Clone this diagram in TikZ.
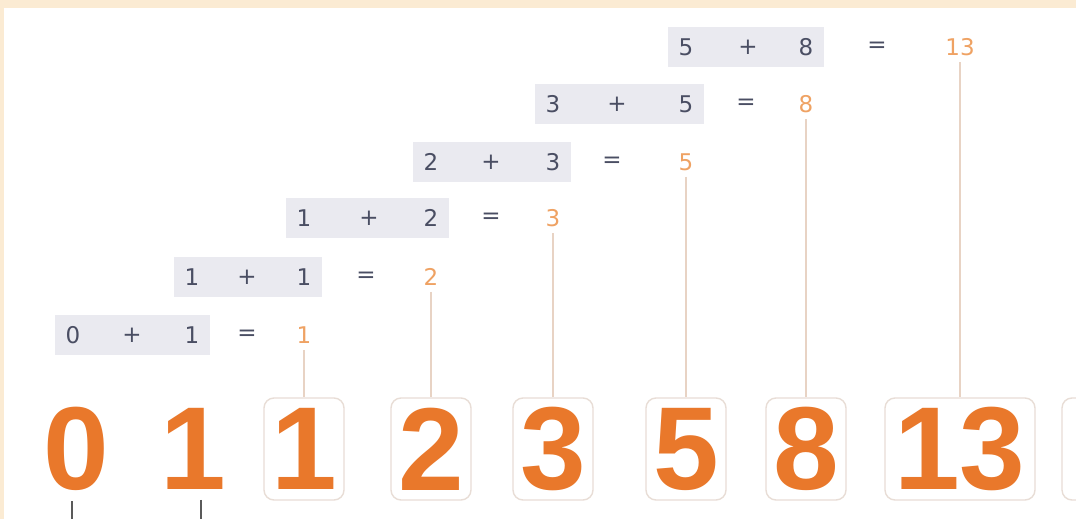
\documentclass[tikz,border=0pt]{standalone}
\usepackage{fontspec}
\setmainfont{DejaVu Sans}
\newfontfamily\digitfont{Liberation Sans}
\usepackage{xcolor}
\usepackage{tikz}
\usetikzlibrary{positioning, fit, backgrounds}
\definecolor{fibcream}{HTML}{FBEBD3}
\definecolor{fiborange}{HTML}{E9782B}
\definecolor{fibpeach}{HTML}{EFA263}
\definecolor{fibslate}{HTML}{4A4E63}
\definecolor{fibgray}{HTML}{EAEAF0}
\definecolor{fibedge}{HTML}{E8DDD6}
\definecolor{fibline}{HTML}{E8D3C4}
\definecolor{fibtick}{HTML}{5A5A5A}

\begin{document}
\begin{tikzpicture}[
    x=0.5pt, y=-0.5pt,
    bignum/.style={font=\digitfont\fontsize{59}{59}\selectfont\bfseries, text=fiborange, inner sep=0pt},
    numbox/.style={bignum, draw=fibedge, fill=white, line width=0.7pt, rounded corners=5pt, minimum width=40pt, minimum height=51pt},
    term/.style={font=\fontsize{11.5}{12}\selectfont, text=fibslate, inner sep=0pt},
    result/.style={term, text=fibpeach},
    pair/.style={fill=fibgray, inner xsep=5.3pt, inner ysep=5.5pt},
    link/.style={draw=fibline, line width=1pt},
    tick/.style={draw=fibtick, line width=0.8pt},
]
\useasboundingbox (0,0) rectangle (1076,519);

% Frame
\begin{scope}[on background layer]
\fill[fibcream] (0,0) rectangle (1076,519);
\fill[white] (4,8) rectangle (1090,530);
\end{scope}

% Sums, bottom row first
\node[term] (a0) at (73,335) {0};
\node[term] (p0) at (132,335) {+};
\node[term] (b0) at (192,335) {1};
\node[term] (e0) at (247,335) {=};
\node[result] (r0) at (304,335) {1};

\node[term] (a1) at (192,277) {1};
\node[term] (p1) at (247,277) {+};
\node[term] (b1) at (304,277) {1};
\node[term] (e1) at (366,277) {=};
\node[result] (r1) at (431,277) {2};

\node[term] (a2) at (304,218) {1};
\node[term] (p2) at (369,218) {+};
\node[term] (b2) at (431,218) {2};
\node[term] (e2) at (491,218) {=};
\node[result] (r2) at (553,218) {3};

\node[term] (a3) at (431,162) {2};
\node[term] (p3) at (491,162) {+};
\node[term] (b3) at (553,162) {3};
\node[term] (e3) at (612,162) {=};
\node[result] (r3) at (686,162) {5};

\node[term] (a4) at (553,104) {3};
\node[term] (p4) at (617,104) {+};
\node[term] (b4) at (686,104) {5};
\node[term] (e4) at (746,104) {=};
\node[result] (r4) at (806,104) {8};

\node[term] (a5) at (686,47) {5};
\node[term] (p5) at (748,47) {+};
\node[term] (b5) at (806,47) {8};
\node[term] (e5) at (877,47) {=};
\node[result] (r5) at (960,47) {13};

% Shaded operand pairs
\begin{scope}[on background layer]
\node[pair, fit=(a0) (b0)] (s0) {};
\node[pair, fit=(a1) (b1)] (s1) {};
\node[pair, fit=(a2) (b2)] (s2) {};
\node[pair, fit=(a3) (b3)] (s3) {};
\node[pair, fit=(a4) (b4)] (s4) {};
\node[pair, fit=(a5) (b5)] (s5) {};
\end{scope}

% Sequence
\node[bignum] (n0) at (76,449) {0};
\node[bignum] (n1) at (193,449) {1};
\node[numbox] (n2) at (304,449) {1};
\node[numbox] (n3) at (431,449) {2};
\node[numbox] (n4) at (553,449) {3};
\node[numbox] (n5) at (686,449) {5};
\node[numbox] (n6) at (806,449) {8};
\node[numbox, minimum width=75pt] (n7) at (960,449) {13};
\node[numbox] (n8) at (1102,449) {};

% Links
\draw[link] ([yshift=-3pt]r0.south) -- (n2.north);
\draw[link] ([yshift=-3pt]r1.south) -- (n3.north);
\draw[link] ([yshift=-3pt]r2.south) -- (n4.north);
\draw[link] ([yshift=-3pt]r3.south) -- (n5.north);
\draw[link] ([yshift=-3pt]r4.south) -- (n6.north);
\draw[link] ([yshift=-3pt]r5.south) -- (n7.north);

% Ticks
\draw[tick] ([xshift=-2pt, yshift=-5pt]n0.south) -- ++(0,20);
\draw[tick] ([xshift=4pt, yshift=-5pt]n1.south) -- ++(0,20);

\end{tikzpicture}
\end{document}
